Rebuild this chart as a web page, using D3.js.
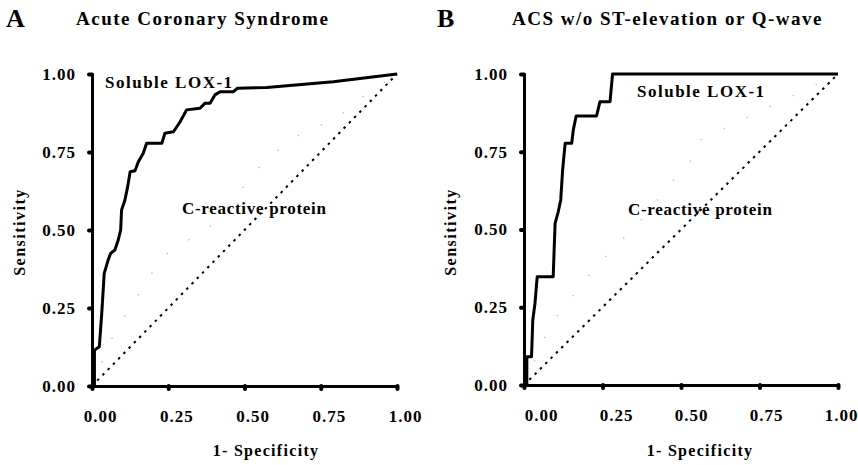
<!DOCTYPE html>
<html lang="en">
  <head>
    <meta charset="UTF-8" />
    <script src="https://cdn.jsdelivr.net/npm/d3@7/dist/d3.min.js"></script>
    <style type="text/css">
      body {
        margin: 0;
        background-color: #fff;
      }
      svg text {
        font-family: "Liberation Serif", "Times New Roman", serif;
        font-weight: bold;
        fill: #000;
      }
      .axis path,
      .axis line {
        stroke: #000;
      }
      .axis path {
        stroke-width: 3px;
      }
      .axis line {
        stroke-width: 4px;
        stroke-linecap: round;
      }
      .axis text {
        font-size: 17px;
        letter-spacing: 1px;
      }
    </style>
    <title>ROC curves: soluble LOX-1 vs C-reactive protein</title>
  </head>
  <body>
    <div class="canvas"></div>
    <script>
      // ROC points: [1 - specificity, sensitivity]
      const loxA = [
        [0, 0], [0.008, 0], [0.008, 0.115], [0.024, 0.126], [0.032, 0.233],
        [0.04, 0.361], [0.053, 0.404], [0.061, 0.425], [0.075, 0.436],
        [0.086, 0.468], [0.094, 0.5], [0.097, 0.564], [0.108, 0.596],
        [0.117, 0.639], [0.125, 0.687], [0.141, 0.69], [0.152, 0.719],
        [0.168, 0.746], [0.179, 0.778], [0.229, 0.778], [0.239, 0.81],
        [0.267, 0.815], [0.289, 0.847], [0.31, 0.885], [0.354, 0.89],
        [0.37, 0.906], [0.387, 0.906], [0.403, 0.933], [0.42, 0.943],
        [0.463, 0.943], [0.476, 0.954], [0.573, 0.957], [0.791, 0.975],
        [1, 1],
      ];
      const crpA = [
        [0, 0], [0.075, 0.174], [0.179, 0.334], [0.229, 0.414], [0.4, 0.52],
        [0.57, 0.728], [0.693, 0.815], [0.797, 0.853], [0.873, 0.917], [1, 1],
      ];
      const loxB = [
        [0, 0], [0.009, 0], [0.009, 0.091], [0.024, 0.091], [0.028, 0.209],
        [0.035, 0.263], [0.042, 0.348], [0.093, 0.348], [0.099, 0.52],
        [0.109, 0.557], [0.117, 0.595], [0.123, 0.691], [0.131, 0.777],
        [0.152, 0.777], [0.157, 0.82], [0.166, 0.865], [0.231, 0.865],
        [0.242, 0.911], [0.274, 0.911], [0.282, 1], [1, 1],
      ];
      const crpB = [
        [0, 0], [0.074, 0.171], [0.104, 0.22], [0.138, 0.263], [0.228, 0.38],
        [0.364, 0.52], [0.481, 0.664], [0.529, 0.718], [0.55, 0.782], [1, 1],
      ];
      const chance = [[0, 0], [1, 1]];
      const tickValues = [0, 0.25, 0.5, 0.75, 1];

      const svg = d3
        .select(".canvas")
        .append("svg")
        .attr("width", 858)
        .attr("height", 465);

      const panels = [
        {
          letter: "A",
          title: "Acute Coronary Syndrome",
          lox: loxA,
          crp: crpA,
          left: 0,
          x0: 92, x1: 397, y0: 386, y1: 74,
          titleX: 76,
          tickDx: (d) => 8,
          loxLabel: [105, 88],
          crpLabel: [182, 214],
          xLabelX: 266,
        },
        {
          letter: "B",
          title: "ACS w/o ST-elevation or Q-wave",
          lox: loxB,
          crp: crpB,
          left: 431,
          x0: 524, x1: 838, y0: 385, y1: 74,
          titleX: 512,
          tickDx: (d) => 17 - 14 * d,
          loxLabel: [637, 97],
          crpLabel: [628, 215],
          xLabelX: 700,
        },
      ];

      panels.forEach((p) => {
        const x = d3.scaleLinear().domain([0, 1]).range([p.x0, p.x1]);
        const y = d3.scaleLinear().domain([0, 1]).range([p.y0, p.y1]);
        const line = d3
          .line()
          .x((d) => x(d[0]))
          .y((d) => y(d[1]));

        const g = svg.append("g");

        // panel letter + title
        g.append("text")
          .attr("x", p.left + 6)
          .attr("y", 27)
          .style("font-size", "26px")
          .text(p.letter);
        g.append("text")
          .attr("x", p.titleX)
          .attr("y", 25)
          .style("font-size", "19px")
          .style("letter-spacing", "1.5px")
          .text(p.title);

        // curves
        g.append("path")
          .datum(p.crp)
          .attr("fill", "none")
          .attr("stroke", "#c4c4c4")
          .attr("stroke-width", 1.5)
          .attr("stroke-dasharray", "1.5,24")
          .attr("d", line);

        g.append("path")
          .datum(chance)
          .attr("fill", "none")
          .attr("stroke", "#000")
          .attr("stroke-width", 2)
          .attr("stroke-dasharray", "2.5,5")
          .attr("d", line);

        g.append("path")
          .datum(p.lox)
          .attr("fill", "none")
          .attr("stroke", "#000")
          .attr("stroke-width", 3)
          .attr("stroke-linejoin", "round")
          .attr("d", line);

        // axes
        const xAxis = g
          .append("g")
          .attr("class", "axis")
          .attr("transform", `translate(0,${p.y0})`)
          .call(
            d3
              .axisBottom(x)
              .tickValues(tickValues)
              .tickFormat(d3.format(".2f"))
              .tickSizeInner(3)
              .tickSizeOuter(0)
              .tickPadding(21)
          );
        xAxis.selectAll("text").attr("dx", (d) => p.tickDx(d));

        g.append("g")
          .attr("class", "axis")
          .attr("transform", `translate(${p.x0},0)`)
          .call(
            d3
              .axisLeft(y)
              .tickValues(tickValues)
              .tickFormat(d3.format(".2f"))
              .tickSizeInner(3)
              .tickSizeOuter(0)
              .tickPadding(13)
          );
        g.selectAll(".axis .domain").attr("stroke-linecap", "round");

        // axis titles
        g.append("text")
          .attr("text-anchor", "middle")
          .attr("transform", `translate(${p.left + 25},232) rotate(-90)`)
          .style("font-size", "16px")
          .style("letter-spacing", "1.5px")
          .text("Sensitivity");
        g.append("text")
          .attr("text-anchor", "middle")
          .attr("x", p.xLabelX)
          .attr("y", 456)
          .style("font-size", "16px")
          .style("letter-spacing", "1.3px")
          .text("1- Specificity");

        // curve labels
        g.append("text")
          .attr("x", p.loxLabel[0])
          .attr("y", p.loxLabel[1])
          .style("font-size", "17px")
          .style("letter-spacing", "1.5px")
          .text("Soluble LOX-1");
        g.append("text")
          .attr("x", p.crpLabel[0])
          .attr("y", p.crpLabel[1])
          .style("font-size", "17px")
          .style("letter-spacing", "0.7px")
          .text("C-reactive protein");
      });
    </script>
  </body>
</html>
